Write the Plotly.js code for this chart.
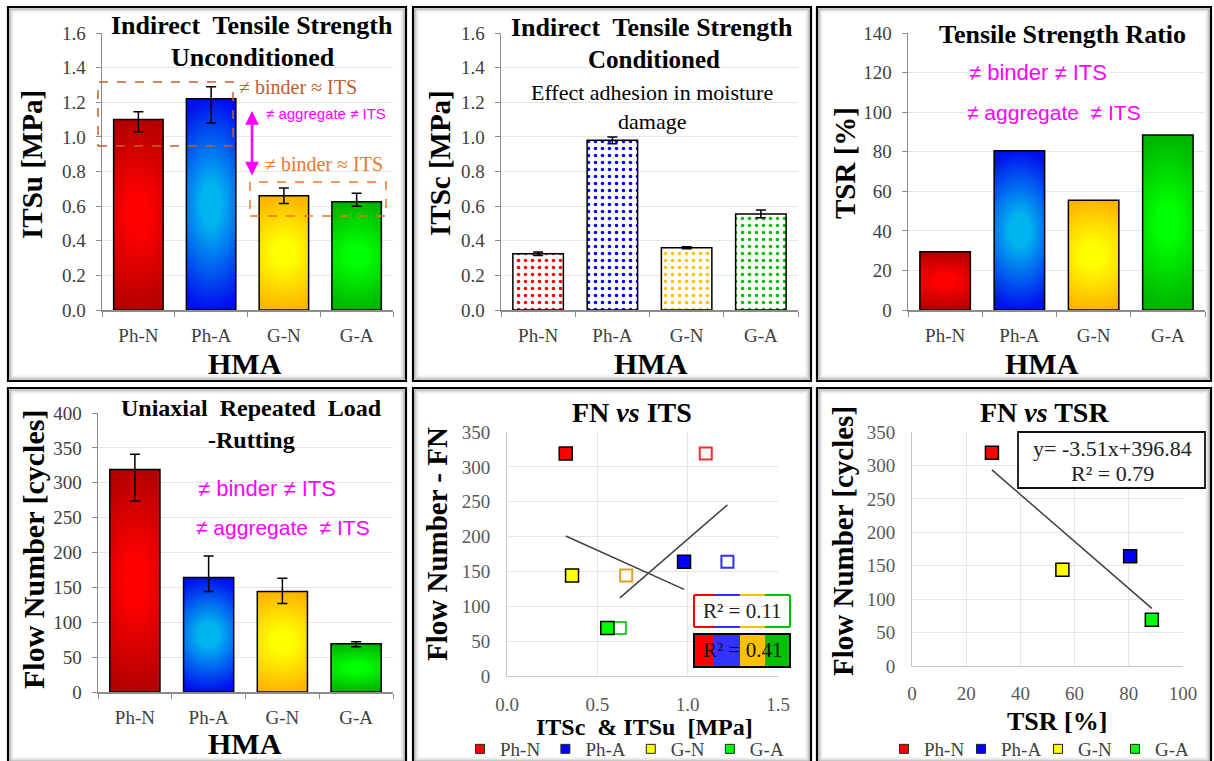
<!DOCTYPE html>
<html><head><meta charset="utf-8">
<script src="https://cdn.plot.ly/plotly-3.0.1.min.js"></script>
<style>html,body{margin:0;padding:0;background:#fff;overflow:hidden}#chart{width:1214px;height:761px}</style>
</head><body><div id="chart"></div>
<script>
// ---------- data ----------
const categories = ['Ph-N', 'Ph-A', 'G-N', 'G-A'];
const itsuValues = [1.10, 1.22, 0.66, 0.625];
const itsuErrPlus = [0.045, 0.07, 0.045, 0.05];
const itsuErrMinus = [0.07, 0.14, 0.045, 0.025];
const itscValues = [0.325, 0.98, 0.36, 0.555];
const itscErr = [0.01, 0.02, 0.006, 0.022];
const tsrValues = [29.5, 80.5, 55.5, 88.5];
const fnValues = [319, 164, 144, 69];
const fnErrPlus = [22, 31, 19, 3];
const fnErrMinus = [45, 20, 17, 4];
const fnTsrSlope = -3.51;
const fnTsrIntercept = 396.84;
const r2LabelOpen = 'R² = 0.11';
const r2LabelFilled = 'R² = 0.41';
const eqLabel = 'y= -3.51x+396.84';
const r2LabelTsr = 'R² = 0.79';

// ---------- styles ----------
const fillColors = ['#FF0000', '#0000FF', '#FFFF00', '#00FF00'];
const hollowColors = ['#FF2A2A', '#3030FF', '#D9A21B', '#22D422'];
const gradCenter = ['#FF0000', '#00B4F0', '#FFFF00', '#00FF00'];
const gradEdge = ['#B40000', '#0010F0', '#FFB400', '#00B400'];
const patternColors = ['#FF0000', '#0000FF', '#FFC000', '#00C000'];
const boxColors = ['#FF0000', '#3333FF', '#FFC000', '#00C000'];
const SERIF = '"Liberation Serif","Times New Roman",serif';
const SANS = '"Liberation Sans",Arial,sans-serif';
const MAGENTA = '#FF00FF';
const W = 1214, H = 761;
const px = v => v / W, py = v => 1 - v / H;
const dom = (a, b) => [px(a), px(b)];
const domY = (top, bottom) => [py(bottom), py(top)];

function linFit(xs, ys) {
  const n = xs.length;
  const mx = xs.reduce((a, b) => a + b, 0) / n, my = ys.reduce((a, b) => a + b, 0) / n;
  let sxy = 0, sxx = 0;
  for (let i = 0; i < n; i++) { sxy += (xs[i] - mx) * (ys[i] - my); sxx += (xs[i] - mx) ** 2; }
  const m = sxy / sxx;
  return { m, b: my - m * mx };
}

// ---------- traces ----------
function gradBar(y, xa, ya, err) {
  const t = { type: 'bar', x: categories, y, xaxis: xa, yaxis: ya, showlegend: false, hoverinfo: 'skip',
    marker: { color: gradEdge, line: { color: '#000', width: 1.5 } } };
  if (err) t.error_y = Object.assign({ type: 'data', color: '#000', thickness: 1.5, width: 5 }, err);
  return t;
}
const data = [];
data.push(gradBar(itsuValues, 'x', 'y', { symmetric: false, array: itsuErrPlus, arrayminus: itsuErrMinus }));
data.push({ type: 'bar', x: categories, y: itscValues, xaxis: 'x2', yaxis: 'y2', showlegend: false, hoverinfo: 'skip',
  marker: { color: '#fff', line: { color: '#000', width: 1.5 },
    pattern: { shape: '.', fgcolor: patternColors, bgcolor: '#fff', size: 7, solidity: 0.2, fillmode: 'replace' } },
  error_y: { type: 'data', array: itscErr, color: '#000', thickness: 1.5, width: 5 } });
data.push(gradBar(tsrValues, 'x3', 'y3'));
data.push(gradBar(fnValues, 'x4', 'y4', { symmetric: false, array: fnErrPlus, arrayminus: fnErrMinus }));

// FN vs ITS
const fitC = linFit(itscValues, fnValues);
const fitU = linFit(itsuValues, fnValues);
const cMin = Math.min(...itscValues), cMax = Math.max(...itscValues);
const uMin = Math.min(...itsuValues), uMax = Math.max(...itsuValues);
data.push({ type: 'scatter', mode: 'lines', x: [cMin, cMax], y: [fitC.m * cMin + fitC.b, fitC.m * cMax + fitC.b],
  xaxis: 'x5', yaxis: 'y5', line: { color: '#404040', width: 1.5 }, showlegend: false, hoverinfo: 'skip' });
data.push({ type: 'scatter', mode: 'lines', x: [uMin, uMax], y: [fitU.m * uMin + fitU.b, fitU.m * uMax + fitU.b],
  xaxis: 'x5', yaxis: 'y5', line: { color: '#404040', width: 1.5 }, showlegend: false, hoverinfo: 'skip' });
data.push({ type: 'scatter', mode: 'markers', x: itsuValues, y: fnValues, xaxis: 'x5', yaxis: 'y5', showlegend: false, hoverinfo: 'skip',
  marker: { symbol: 'square', size: 12, color: '#fff', line: { color: hollowColors, width: 2 } } });
data.push({ type: 'scatter', mode: 'markers', x: itscValues, y: fnValues, xaxis: 'x5', yaxis: 'y5', showlegend: false, hoverinfo: 'skip',
  marker: { symbol: 'square', size: 13, color: fillColors, line: { color: '#000', width: 1.5 } } });

// FN vs TSR
const tMin = Math.min(...tsrValues), tMax = Math.max(...tsrValues);
data.push({ type: 'scatter', mode: 'lines', x: [tMin, tMax], y: [fnTsrSlope * tMin + fnTsrIntercept, fnTsrSlope * tMax + fnTsrIntercept],
  xaxis: 'x6', yaxis: 'y6', line: { color: '#404040', width: 1.5 }, showlegend: false, hoverinfo: 'skip' });
data.push({ type: 'scatter', mode: 'markers', x: tsrValues, y: fnValues, xaxis: 'x6', yaxis: 'y6', showlegend: false, hoverinfo: 'skip',
  marker: { symbol: 'square', size: 13, color: fillColors, line: { color: '#000', width: 1.5 } } });

// legend entries (legend-only, no points)
['legend', 'legend2'].forEach((lg, k) => {
  categories.forEach((c, i) => {
    data.push({ type: 'scatter', mode: 'markers', x: [null], y: [null], name: c, legend: lg,
      xaxis: k ? 'x6' : 'x5', yaxis: k ? 'y6' : 'y5', hoverinfo: 'skip',
      marker: { symbol: 'square', size: 9, color: fillColors[i], line: { color: '#222', width: 1 } } });
  });
});

// ---------- axes ----------
function catAxis(d, anchor) {
  return { domain: d, anchor, type: 'category', showgrid: false, showline: true, linecolor: '#8c8c8c', linewidth: 1.5,
    ticks: 'outside', ticklen: 5, tickcolor: '#8c8c8c', tickson: 'boundaries', ticklabelstandoff: 8,
    tickfont: { family: SERIF, size: 19, color: '#404040' }, fixedrange: true };
}
function valAxis(d, anchor, range, dtick, fmt, opts) {
  return Object.assign({ domain: d, anchor, range, dtick, tick0: 0, tickformat: fmt, showgrid: true, gridcolor: '#e6e6e6',
    gridwidth: 1, zeroline: false, showline: true, linecolor: '#8c8c8c', linewidth: 1.5, ticks: 'outside', ticklen: 5,
    tickcolor: '#8c8c8c', ticklabelstandoff: 6, tickfont: { family: SERIF, size: 19, color: '#404040' }, fixedrange: true }, opts || {});
}
const scatOpts = { ticks: '', linecolor: '#c8c8c8', linewidth: 1, tickfont: { family: SERIF, size: 19, color: '#595959' } };

// ---------- annotations ----------
function ann(text, x, y, size, opts) {
  return Object.assign({ text, x: px(x), y: py(y), xref: 'paper', yref: 'paper', showarrow: false,
    xanchor: 'center', yanchor: 'middle', font: { family: SERIF, size, color: '#000' } }, opts || {});
}
const sp2 = '\u00a0 ';
const magenta = s => ({ font: { family: SANS, size: s, color: MAGENTA } });
const annotations = [
  ann('<b>Indirect' + sp2 + 'Tensile Strength</b>', 252, 26, 26),
  ann('<b>Unconditioned</b>', 253, 58, 26),
  ann('≠ binder ≈ ITS', 298, 87, 20, { font: { family: SERIF, size: 20, color: '#C0602F' } }),
  ann('≠ aggregate ≠ ITS', 326, 113, 15, magenta(15)),
  ann('≠ binder ≈ ITS', 324, 164, 20, { font: { family: SERIF, size: 20, color: '#F07828' } }),
  { x: px(252), y: py(111), xref: 'paper', yref: 'paper', text: '', showarrow: true, ax: 0, ay: 66, axref: 'pixel', ayref: 'pixel',
    arrowside: 'end+start', arrowhead: 2, startarrowhead: 2, arrowsize: 1.1, startarrowsize: 1.1, arrowwidth: 2.5, arrowcolor: MAGENTA, standoff: 0, startstandoff: 0 },
  ann('<b>Indirect' + sp2 + 'Tensile Strength</b>', 652, 27, 26),
  ann('<b>Conditioned</b>', 654, 59, 25),
  ann('Effect adhesion in moisture', 652, 93, 22),
  ann('damage', 652, 121, 22),
  ann('<b>Tensile Strength Ratio</b>', 1062, 34, 26),
  ann('≠ binder ≠ ITS', 1038, 72, 22, Object.assign(magenta(22), { bgcolor: '#fff' })),
  ann('≠ aggregate' + sp2 + '≠ ITS', 1054, 112, 21, Object.assign(magenta(21), { bgcolor: '#fff' })),
  ann('<b>Uniaxial' + sp2 + 'Repeated' + sp2 + 'Load</b>', 251, 408, 24),
  ann('<b>-Rutting</b>', 251, 440, 24),
  ann('≠ binder ≠ ITS', 267, 488, 22, magenta(22)),
  ann('≠ aggregate' + sp2 + '≠ ITS', 283, 527, 21, magenta(21)),
  ann('<b>FN <i>vs</i> ITS</b>', 632, 412, 28),
  ann('<b>FN <i>vs</i> TSR</b>', 1044, 412, 28),
  ann(r2LabelOpen, 742, 611, 21, { font: { family: SERIF, size: 21, color: '#222' } }),
  ann(r2LabelFilled, 742, 650, 21, { font: { family: SERIF, size: 21, color: '#111' } }),
  ann(eqLabel, 1112, 448, 22, { font: { family: SERIF, size: 22, color: '#222' } }),
  ann(r2LabelTsr, 1112, 473, 22, { font: { family: SERIF, size: 22, color: '#222' } }),
  // axis titles
  ann('<b>ITSu [MPa]</b>', 32, 165, 29, { textangle: -90 }),
  ann('<b>HMA</b>', 245, 363, 30),
  ann('<b>ITSc [MPa]</b>', 440, 163, 29, { textangle: -90 }),
  ann('<b>HMA</b>', 651, 363, 30),
  ann('<b>TSR [%]</b>', 845, 163, 29, { textangle: -90 }),
  ann('<b>HMA</b>', 1042, 363, 30),
  ann('<b>Flow Number [cycles]</b>', 33, 550, 30, { textangle: -90 }),
  ann('<b>HMA</b>', 245, 743, 30),
  ann('<b>Flow Number - FN</b>', 437, 544, 29, { textangle: -90 }),
  ann('<b>ITSc' + sp2 + '& ITSu' + sp2 + '[MPa]</b>', 644, 727, 24),
  ann('<b>Flow Number [cycles]</b>', 843, 541, 29, { textangle: -90 }),
  ann('<b>TSR [%]</b>', 1057, 721, 26)
];

// ---------- shapes ----------
function rect(x0, y0, x1, y1, line, fill, layer) {
  return { type: 'rect', xref: 'paper', yref: 'paper', x0: px(x0), x1: px(x1), y0: py(y1), y1: py(y0),
    line: line, fillcolor: fill || 'rgba(0,0,0,0)', layer: layer || 'above' };
}
function seg(x0, y0, x1, y1, color, w) {
  return { type: 'line', xref: 'paper', yref: 'paper', x0: px(x0), x1: px(x1), y0: py(y0), y1: py(y1), line: { color, width: w } };
}
const shapes = [];
const panels = [[8, 7, 406, 381], [413, 7, 811, 381], [817, 7, 1211, 381], [8, 388, 406, 763], [413, 388, 811, 763], [817, 388, 1211, 763]];
const shadow = ['#9a9a9a', '#c4c4c4', '#dedede', '#efefef'];
panels.forEach(p => {
  shadow.forEach((c, k) => { const d = 2 + k; shapes.push(rect(p[0] + d, p[1] + d, p[2] - d, p[3] - d, { color: c, width: 1 }, null, 'below')); });
  shapes.push(rect(p[0], p[1], p[2], p[3], { color: '#000', width: 2.2 }, null, 'above'));
});
shapes.push(rect(98, 82, 233, 146, { color: '#C5602A', width: 1.5, dash: 'dash' }));
shapes.push(rect(250, 182, 386, 216, { color: '#F07828', width: 1.5, dash: 'dash' }));
// R² boxes (FN vs ITS)
const bx = [694, 714, 740, 765, 790];
for (let i = 0; i < 4; i++) {
  shapes.push(seg(bx[i], 595, bx[i + 1], 595, boxColors[i], 2));
  shapes.push(seg(bx[i], 627, bx[i + 1], 627, boxColors[i], 2));
  shapes.push(rect(bx[i], 634, bx[i + 1], 667, { width: 0 }, boxColors[i]));
}
shapes.push(seg(694, 595, 694, 627, boxColors[0], 2));
shapes.push(seg(790, 595, 790, 627, boxColors[3], 2));
shapes.push(rect(694, 634, 790, 667, { color: '#000', width: 2 }));
// equation box (FN vs TSR)
shapes.push(rect(1018, 432, 1205, 488, { color: '#111', width: 1.8 }, '#fff'));

const legendBase = { orientation: 'h', xanchor: 'left', yanchor: 'middle', y: py(749), bgcolor: 'rgba(0,0,0,0)',
  font: { family: SERIF, size: 19, color: '#404040' }, itemclick: false, itemdoubleclick: false, tracegroupgap: 0 };

const layout = {
  width: W, height: H, margin: { l: 0, r: 0, t: 0, b: 0, autoexpand: false }, paper_bgcolor: '#fff', plot_bgcolor: 'rgba(0,0,0,0)',
  bargap: 0.32, hovermode: false, showlegend: true,
  xaxis: catAxis(dom(102, 393), 'y'),
  yaxis: valAxis(domY(33, 310), 'x', [0, 1.6], 0.2, '.1f'),
  xaxis2: catAxis(dom(501, 798), 'y2'),
  yaxis2: valAxis(domY(33, 310), 'x2', [0, 1.6], 0.2, '.1f'),
  xaxis3: catAxis(dom(908, 1205), 'y3'),
  yaxis3: valAxis(domY(33, 310), 'x3', [0, 140], 20, 'd'),
  xaxis4: catAxis(dom(98, 393), 'y4'),
  yaxis4: valAxis(domY(413, 692), 'x4', [0, 400], 50, 'd'),
  xaxis5: valAxis(dom(507, 778), 'y5', [0, 1.5], 0.5, '.1f', Object.assign({}, scatOpts, { ticklabelstandoff: 11 })),
  yaxis5: valAxis(domY(432, 676), 'x5', [0, 350], 50, 'd', Object.assign({}, scatOpts, { ticklabelstandoff: 12 })),
  xaxis6: valAxis(dom(912, 1183), 'y6', [0, 100], 20, 'd', Object.assign({}, scatOpts, { ticklabelstandoff: 10 })),
  yaxis6: valAxis(domY(432, 666), 'x6', [0, 350], 50, 'd', Object.assign({}, scatOpts, { ticklabelstandoff: 12 })),
  legend: Object.assign({}, legendBase, { x: px(460) }),
  legend2: Object.assign({}, legendBase, { x: px(884), entrywidth: 32, entrywidthmode: 'pixels' }),
  annotations, shapes
};

function applyGradients(gd) {
  const NS = 'http://www.w3.org/2000/svg';
  const svg = gd.querySelector('svg.main-svg');
  let defs = svg.querySelector('defs');
  if (!defs) { defs = document.createElementNS(NS, 'defs'); svg.insertBefore(defs, svg.firstChild); }
  gradCenter.forEach((c, i) => {
    const g = document.createElementNS(NS, 'radialGradient');
    g.setAttribute('id', 'barGrad' + i);
    g.setAttribute('cx', '0.5'); g.setAttribute('cy', '0.5'); g.setAttribute('r', '0.5');
    g.setAttribute('gradientTransform', 'translate(0.5 0.5) scale(2 1) translate(-0.5 -0.5)');
    [[0, c], [0.2, c], [1, gradEdge[i]]].forEach(([o, col]) => {
      const s = document.createElementNS(NS, 'stop');
      s.setAttribute('offset', o); s.setAttribute('stop-color', col); g.appendChild(s);
    });
    defs.appendChild(g);
  });
  ['xy', 'x3y3', 'x4y4'].forEach(sp => {
    gd.querySelectorAll('.subplot.' + sp + ' .barlayer .point path').forEach((p, i) => {
      p.style.fill = 'url(#barGrad' + (i % 4) + ')';
    });
  });
}

Plotly.newPlot('chart', data, layout, { staticPlot: true, displayModeBar: false }).then(applyGradients);
</script>
</body></html>
